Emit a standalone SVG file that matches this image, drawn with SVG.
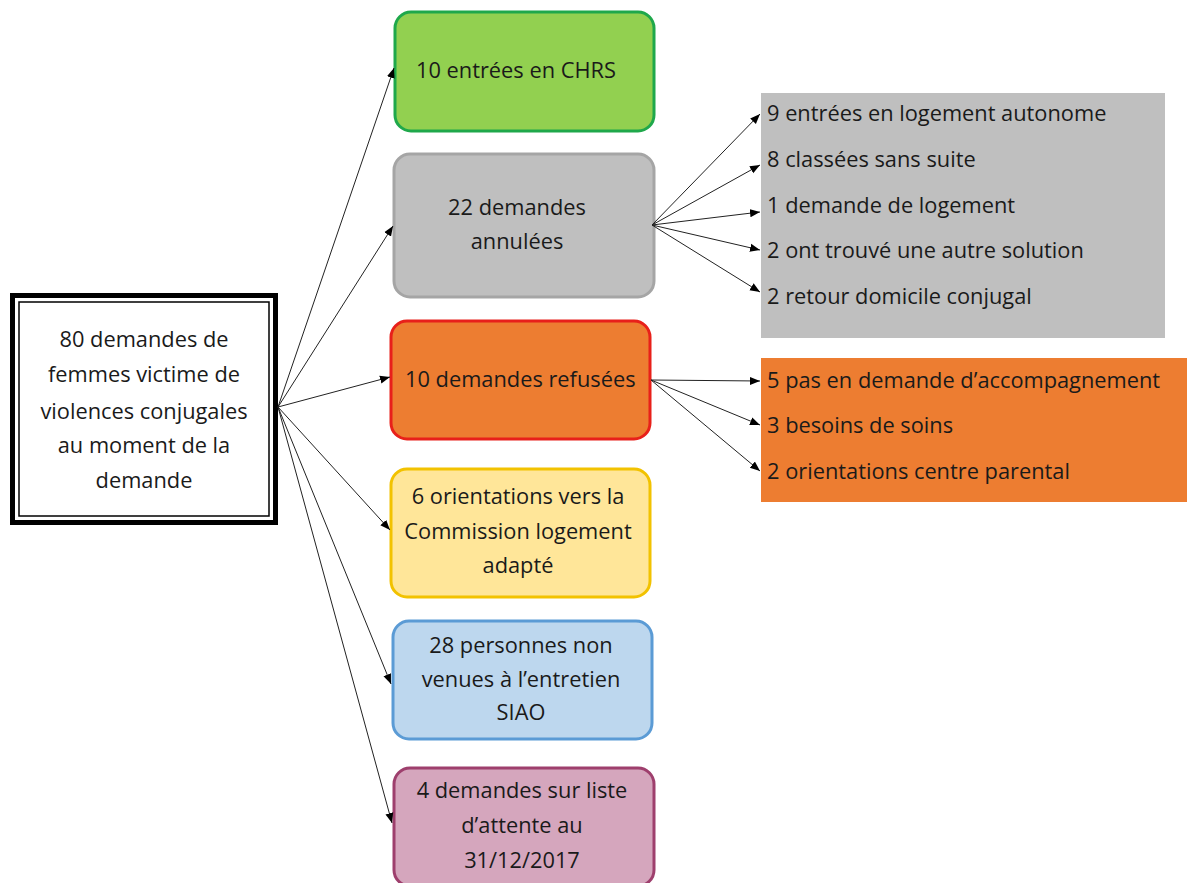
<svg xmlns="http://www.w3.org/2000/svg" width="1187" height="883" viewBox="0 0 1187 883">
<defs>
<marker id="ah" viewBox="0 0 10 10" refX="10" refY="5" markerWidth="10" markerHeight="10" markerUnits="userSpaceOnUse" orient="auto">
<path d="M0,1 L10,5 L0,9 Z" fill="#000"/>
</marker>
<style>
text{font-family:"Open Sans",Lato,"Liberation Sans",sans-serif;font-size:21.8px;fill:#1a1a1a}
.c{text-anchor:middle}
.cn line{stroke:#222;stroke-width:1;marker-end:url(#ah)}
.box{stroke-width:3}
</style>
</defs>
<rect width="1187" height="883" fill="#fff"/>
<g id="panel-annulees">
<rect x="761" y="93" width="404" height="245" fill="#bfbfbf"/>
<text x="767" y="121">9 entrées en logement autonome</text>
<text x="767" y="167">8 classées sans suite</text>
<text x="767" y="213">1 demande de logement</text>
<text x="767" y="258">2 ont trouvé une autre solution</text>
<text x="767" y="304">2 retour domicile conjugal</text>
</g>
<g id="panel-refusees">
<rect x="761" y="358" width="426" height="144" fill="#ed7d31"/>
<text x="767" y="388">5 pas en demande d’accompagnement</text>
<text x="767" y="433">3 besoins de soins</text>
<text x="767" y="479">2 orientations centre parental</text>
</g>
<g id="main">
<rect x="12.5" y="295.5" width="263" height="227" fill="#fff" stroke="#000" stroke-width="5"/>
<rect x="19" y="302" width="250" height="214" fill="none" stroke="#000" stroke-width="1.5"/>
<text class="c" x="144" y="347">80 demandes de</text>
<text class="c" x="144" y="382">femmes victime de</text>
<text class="c" x="144" y="419">violences conjugales</text>
<text class="c" x="144" y="453">au moment de la</text>
<text class="c" x="144" y="488">demande</text>
</g>
<g id="chrs">
<rect class="box" x="395" y="12" width="259" height="119" rx="16" fill="#92d050" stroke="#1fa84b"/>
<text x="416" y="78">10 entrées en CHRS</text>
</g>
<g id="annulees">
<rect class="box" x="394" y="154" width="260" height="143" rx="16" fill="#bfbfbf" stroke="#a5a5a5"/>
<text class="c" x="517" y="215">22 demandes</text>
<text class="c" x="517" y="249">annulées</text>
</g>
<g id="refusees">
<rect class="box" x="391" y="321" width="259" height="118" rx="16" fill="#ed7d31" stroke="#e8201a"/>
<text x="405" y="387">10 demandes refusées</text>
</g>
<g id="commission">
<rect class="box" x="391" y="469" width="259" height="128" rx="16" fill="#ffe699" stroke="#f2c200"/>
<text class="c" x="518" y="504">6 orientations vers la</text>
<text class="c" x="518" y="539">Commission logement</text>
<text class="c" x="518" y="573">adapté</text>
</g>
<g id="siao">
<rect class="box" x="393" y="621" width="259" height="118" rx="16" fill="#bdd7ee" stroke="#5b9bd5"/>
<text class="c" x="521" y="653">28 personnes non</text>
<text class="c" x="521" y="687">venues à l’entretien</text>
<text class="c" x="521" y="720">SIAO</text>
</g>
<g id="attente">
<rect class="box" x="394" y="768" width="260" height="118" rx="16" fill="#d5a6bd" stroke="#9e3f6d"/>
<text class="c" x="522" y="798">4 demandes sur liste</text>
<text class="c" x="522" y="833">d’attente au</text>
<text class="c" x="522" y="868">31/12/2017</text>
</g>
<g class="cn" id="connectors">
<line x1="278" y1="407" x2="394" y2="68"/>
<line x1="278" y1="407" x2="393" y2="226"/>
<line x1="278" y1="407" x2="390" y2="377"/>
<line x1="278" y1="407" x2="390" y2="530"/>
<line x1="278" y1="407" x2="391" y2="684"/>
<line x1="278" y1="407" x2="392" y2="823"/>
<line x1="652" y1="225" x2="760" y2="114"/>
<line x1="652" y1="225" x2="760" y2="165"/>
<line x1="652" y1="225" x2="760" y2="212"/>
<line x1="652" y1="225" x2="760" y2="250"/>
<line x1="652" y1="225" x2="760" y2="292"/>
<line x1="651" y1="380" x2="760" y2="381"/>
<line x1="651" y1="380" x2="760" y2="425"/>
<line x1="651" y1="380" x2="760" y2="471"/>
</g>
</svg>
